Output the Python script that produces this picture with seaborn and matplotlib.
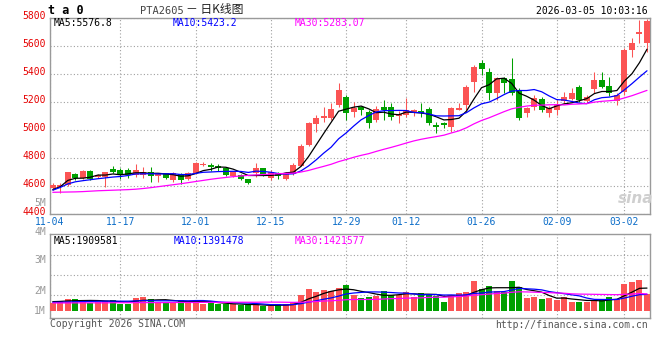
import matplotlib
matplotlib.use("Agg")
import numpy as np
import pandas as pd
import matplotlib.pyplot as plt
import seaborn as sns
from matplotlib.transforms import ScaledTranslation

# daily candles, 11-04 .. 03-05
opens = [4585, 4592, 4607, 4686, 4655, 4710, 4662, 4662, 4719, 4714,
         4717, 4680, 4682, 4702, 4672, 4690, 4640, 4686, 4648, 4690,
         4750, 4750, 4745, 4726, 4668, 4679, 4648, 4690, 4726, 4655,
         4695, 4648, 4686, 4743, 4893, 5043, 5088, 5083, 5178, 5238,
         5131, 5162, 5131, 5071, 5162, 5162, 5100, 5110, 5128, 5136,
         5148, 5036, 5052, 5024, 5143, 5179, 5345, 5481, 5417, 5262,
         5369, 5364, 5286, 5119, 5167, 5219, 5124, 5143, 5209, 5219,
         5310, 5209, 5290, 5357, 5314, 5209, 5274, 5571, 5683, 5624]
highs = [4622, 4620, 4702, 4692, 4712, 4714, 4685, 4700, 4743, 4726,
         4730, 4757, 4738, 4733, 4690, 4693, 4698, 4693, 4700, 4772,
         4771, 4762, 4757, 4733, 4705, 4686, 4652, 4762, 4731, 4714,
         4702, 4698, 4767, 4898, 5055, 5107, 5162, 5190, 5338, 5250,
         5202, 5172, 5143, 5172, 5214, 5190, 5138, 5226, 5150, 5190,
         5167, 5060, 5060, 5162, 5190, 5321, 5464, 5500, 5440, 5381,
         5381, 5512, 5298, 5167, 5250, 5233, 5172, 5214, 5274, 5298,
         5321, 5250, 5417, 5417, 5381, 5262, 5583, 5655, 5786, 5790]
lows = [4572, 4550, 4598, 4645, 4650, 4645, 4655, 4595, 4690, 4648,
        4660, 4662, 4660, 4631, 4631, 4648, 4630, 4612, 4640, 4686,
        4741, 4705, 4705, 4672, 4662, 4643, 4615, 4667, 4672, 4643,
        4650, 4645, 4676, 4740, 4886, 4988, 5060, 5071, 5167, 5071,
        5095, 5107, 5012, 5060, 5071, 5071, 5048, 5090, 5100, 5095,
        5036, 4981, 5012, 4988, 5143, 5143, 5274, 5393, 5214, 5214,
        5262, 5250, 5071, 5095, 5143, 5131, 5090, 5107, 5190, 5214,
        5202, 5190, 5267, 5298, 5243, 5179, 5250, 5524, 5619, 5560]
closes = [4610, 4606, 4698, 4655, 4710, 4648, 4678, 4698, 4697, 4680,
          4682, 4714, 4703, 4672, 4686, 4655, 4690, 4645, 4690, 4767,
          4760, 4735, 4728, 4680, 4698, 4650, 4621, 4726, 4679, 4702,
          4674, 4690, 4750, 4886, 5048, 5088, 5100, 5148, 5286, 5124,
          5155, 5143, 5048, 5148, 5143, 5090, 5114, 5143, 5140, 5119,
          5048, 5019, 5036, 5155, 5160, 5305, 5452, 5436, 5262, 5369,
          5333, 5267, 5083, 5155, 5226, 5143, 5155, 5179, 5233, 5262,
          5214, 5233, 5357, 5310, 5262, 5250, 5571, 5619, 5702, 5780]

ma5 = [4575, 4595, 4640, 4655, 4656, 4663, 4678, 4678, 4686, 4680,
       4687, 4694, 4695, 4690, 4691, 4686, 4681, 4670, 4673, 4689,
       4710, 4719, 4736, 4734, 4720, 4698, 4675, 4675, 4675, 4676,
       4680, 4694, 4699, 4740, 4810, 4892, 4974, 5054, 5134, 5149,
       5163, 5171, 5151, 5124, 5127, 5114, 5109, 5128, 5126, 5121,
       5113, 5094, 5072, 5075, 5084, 5135, 5222, 5302, 5323, 5365,
       5370, 5333, 5263, 5241, 5213, 5175, 5152, 5172, 5187, 5194,
       5209, 5224, 5260, 5275, 5275, 5282, 5350, 5402, 5481, 5577]
ma10 = [4570, 4590, 4615, 4630, 4638, 4645, 4652, 4658, 4664, 4668,
        4675, 4686, 4687, 4688, 4686, 4687, 4688, 4682, 4682, 4690,
        4698, 4700, 4703, 4704, 4705, 4704, 4697, 4706, 4704, 4698,
        4689, 4685, 4687, 4708, 4743, 4786, 4834, 4877, 4937, 4979,
        5028, 5073, 5103, 5129, 5138, 5139, 5140, 5139, 5125, 5124,
        5114, 5101, 5100, 5101, 5102, 5124, 5158, 5187, 5199, 5224,
        5253, 5278, 5282, 5282, 5289, 5273, 5243, 5217, 5214, 5204,
        5192, 5188, 5216, 5231, 5235, 5246, 5287, 5331, 5378, 5423]
ma30 = [4555, 4556, 4557, 4558, 4560, 4563, 4566, 4568, 4570, 4572,
        4574, 4577, 4582, 4588, 4595, 4602, 4609, 4616, 4624, 4632,
        4640, 4648, 4655, 4661, 4667, 4672, 4676, 4679, 4682, 4685,
        4688, 4690, 4692, 4700, 4711, 4726, 4740, 4755, 4774, 4789,
        4805, 4819, 4831, 4847, 4862, 4876, 4891, 4907, 4922, 4934,
        4944, 4953, 4963, 4979, 4994, 5016, 5044, 5068, 5087, 5109,
        5131, 5151, 5162, 5171, 5177, 5178, 5180, 5181, 5179, 5184,
        5186, 5189, 5199, 5205, 5209, 5214, 5229, 5245, 5264, 5283]

# volume in millions
vol_m = [0.64, 0.83, 1.00, 1.00, 0.89, 0.69, 0.78, 0.83, 0.92, 0.61,
         0.61, 1.11, 1.19, 1.00, 0.72, 0.69, 0.78, 0.92, 0.83, 0.83,
         0.58, 0.72, 0.56, 0.56, 0.56, 0.50, 0.50, 0.56, 0.39, 0.39,
         0.56, 0.56, 0.78, 1.33, 1.83, 1.61, 1.75, 1.67, 1.94, 2.17,
         1.33, 1.11, 1.17, 1.28, 1.67, 1.33, 1.33, 1.61, 1.19, 1.53,
         1.33, 1.25, 0.78, 1.33, 1.53, 1.61, 2.53, 1.83, 2.08, 1.67,
         1.61, 2.53, 2.03, 1.11, 1.19, 1.00, 1.11, 0.92, 1.19, 0.78,
         0.72, 0.78, 0.92, 1.00, 1.19, 1.00, 2.25, 2.42, 2.58, 1.39]
vol_ma5 = [0.78, 0.80, 0.84, 0.86, 0.87, 0.88, 0.87, 0.84, 0.82, 0.77,
           0.75, 0.82, 0.89, 0.90, 0.93, 0.94, 0.88, 0.82, 0.79, 0.81,
           0.79, 0.78, 0.70, 0.65, 0.60, 0.58, 0.54, 0.54, 0.50, 0.47,
           0.48, 0.49, 0.54, 0.72, 1.01, 1.22, 1.46, 1.64, 1.76, 1.83,
           1.77, 1.64, 1.54, 1.41, 1.31, 1.31, 1.36, 1.44, 1.43, 1.40,
           1.40, 1.38, 1.22, 1.24, 1.24, 1.30, 1.56, 1.77, 1.92, 1.94,
           1.94, 1.94, 1.98, 1.79, 1.69, 1.57, 1.29, 1.07, 1.08, 1.00,
           0.94, 0.88, 0.88, 0.84, 0.92, 0.98, 1.27, 1.57, 1.89, 1.91]
vol_ma10 = [0.72, 0.73, 0.75, 0.77, 0.79, 0.80, 0.81, 0.82, 0.82, 0.82,
            0.82, 0.84, 0.86, 0.86, 0.85, 0.85, 0.85, 0.86, 0.85, 0.87,
            0.87, 0.83, 0.76, 0.72, 0.70, 0.68, 0.66, 0.62, 0.58, 0.53,
            0.53, 0.51, 0.54, 0.61, 0.74, 0.85, 0.98, 1.09, 1.24, 1.42,
            1.50, 1.55, 1.59, 1.59, 1.57, 1.54, 1.50, 1.49, 1.42, 1.36,
            1.36, 1.37, 1.33, 1.34, 1.32, 1.35, 1.47, 1.49, 1.58, 1.59,
            1.62, 1.75, 1.88, 1.85, 1.82, 1.76, 1.62, 1.53, 1.44, 1.35,
            1.26, 1.08, 0.97, 0.96, 0.96, 0.96, 1.08, 1.23, 1.36, 1.39]
vol_ma30 = [0.67, 0.67, 0.67, 0.68, 0.68, 0.68, 0.68, 0.68, 0.69, 0.69,
            0.69, 0.70, 0.70, 0.70, 0.70, 0.70, 0.71, 0.71, 0.71, 0.71,
            0.72, 0.72, 0.72, 0.72, 0.73, 0.73, 0.73, 0.73, 0.74, 0.74,
            0.74, 0.73, 0.72, 0.73, 0.76, 0.79, 0.83, 0.85, 0.89, 0.94,
            0.96, 0.96, 0.96, 0.97, 1.00, 1.03, 1.04, 1.07, 1.08, 1.10,
            1.13, 1.15, 1.15, 1.18, 1.21, 1.25, 1.32, 1.36, 1.41, 1.46,
            1.49, 1.56, 1.60, 1.59, 1.57, 1.55, 1.53, 1.50, 1.48, 1.43,
            1.41, 1.40, 1.39, 1.38, 1.37, 1.36, 1.39, 1.41, 1.46, 1.42]

tick_days = [0, 9, 19, 29, 39, 47, 57, 67, 76]
tick_labels = ["11-04", "11-17", "12-01", "12-15", "12-29", "01-12", "01-26", "02-09", "03-02"]
price_ticks = [4400, 4600, 4800, 5000, 5200, 5400, 5600, 5800]
vol_grid = [1.3, 3.0, 4.67]
vol_labels = ["5M", "4M", "3M", "2M", "1M"]

RED = "#fb5454"
GREEN = "#00a000"
GRID = "#a0a0a0"
FRAME = "#9a9a9a"
BLUE_TXT = "#0a6cc8"
RED_TXT = "#e60000"

sns.set_style("white")
plt.rcParams["font.family"] = ["DejaVu Sans Mono", "Noto Sans CJK SC"]

df = pd.DataFrame({
    "day": np.arange(len(closes)),
    "open": opens, "high": highs, "low": lows, "close": closes,
    "ma5": ma5, "ma10": ma10, "ma30": ma30,
    "vol": vol_m, "vol_ma5": vol_ma5, "vol_ma10": vol_ma10, "vol_ma30": vol_ma30,
})
df["trend"] = np.where(df["close"] >= df["open"], "up", "down")
colors = np.where(df["trend"] == "up", RED, GREEN)

W, H = 660, 360
fig = plt.figure(figsize=(W / 100, H / 100), dpi=100)


def px_box(left, top, right, bottom):
    return [left / W, 1 - bottom / H, (right - left) / W, (bottom - top) / H]


def put(x, y, s, ha="left", **kw):
    fig.text(x / W, 1 - y / H, s, ha=ha, va="center", **kw)


ax = fig.add_axes(px_box(50, 18, 650, 214))
axv = fig.add_axes(px_box(50, 234, 650, 318))
x_lim = (-0.37, 79.4)

# price panel
ax.vlines(df["day"], df["low"], df["high"], colors=colors, linewidth=0.75, zorder=2)
body_low = np.minimum(df["open"], df["close"])
body_h = (df["close"] - df["open"]).abs().clip(lower=5)
ax.bar(df["day"], body_h, bottom=body_low, width=0.8, color=colors, linewidth=0, zorder=3)
sns.lineplot(data=df, x="day", y="ma5", color="black", linewidth=0.9, ax=ax, zorder=4)
sns.lineplot(data=df, x="day", y="ma10", color="#0000ff", linewidth=0.9, ax=ax, zorder=4)
sns.lineplot(data=df, x="day", y="ma30", color="#ff00ff", linewidth=0.9, ax=ax, zorder=4)
ax.set_xlim(*x_lim)
ax.set_ylim(price_ticks[0], price_ticks[-1])
ax.set_yticks(price_ticks)
ax.set_yticklabels([str(v) for v in price_ticks])
ax.set_xticks([x_lim[0]] + tick_days[1:])
ax.set_xticklabels(tick_labels)

# volume panel
sns.barplot(data=df, x="day", y="vol", hue="trend", palette={"up": RED, "down": GREEN},
            dodge=False, width=0.8, saturation=1, errorbar=None, legend=False,
            linewidth=0, ax=axv, zorder=3)
sns.lineplot(data=df, x="day", y="vol_ma5", color="black", linewidth=0.9, ax=axv, zorder=4)
sns.lineplot(data=df, x="day", y="vol_ma10", color="#0000ff", linewidth=0.9, ax=axv, zorder=4)
sns.lineplot(data=df, x="day", y="vol_ma30", color="#ff00ff", linewidth=0.9, ax=axv, zorder=4)
axv.set_xlim(*x_lim)
axv.set_ylim(-0.583, 6.417)
axv.set_yticks(vol_grid)
axv.set_xticks([x_lim[0]] + tick_days[1:])

for a in (ax, axv):
    a.set_xlabel("")
    a.set_ylabel("")
    a.set_axisbelow(True)
    a.grid(True, color=GRID, linestyle=(0, (1, 2)), linewidth=0.8)
    for s in a.spines.values():
        s.set_color(FRAME)
        s.set_linewidth(1.0)
        s.set_visible(True)

ax.tick_params(axis="x", length=0, pad=2.5, labelsize=7, labelcolor=BLUE_TXT)
ax.tick_params(axis="y", length=0, pad=3, labelsize=7, labelcolor=RED_TXT)
axv.tick_params(length=0, labelbottom=False, labelleft=False)
shift = ScaledTranslation(0, 2.5 / 100, fig.dpi_scale_trans)
for lab in ax.get_yticklabels():
    lab.set_transform(lab.get_transform() + shift)

# volume axis labels (as drawn by the source chart)
for s, y in zip(vol_labels, [203, 231.5, 260, 291, 311]):
    put(46, y, s, ha="right", fontsize=7, color="#999999")

# header and legends
put(48, 10.5, "t a 0", fontsize=8.5, fontweight="bold", color="black")
put(140, 10.5, "PTA2605", fontsize=7.5, color="#444444")
put(186, 10, "－ 日K线图", fontsize=8.5, color="#222222",
    family=["Noto Sans CJK SC", "DejaVu Sans"])
put(648, 10.5, "2026-03-05 10:03:16", ha="right", fontsize=7, color="black")

put(54, 23.5, "MA5:5576.8", fontsize=7, color="black")
put(173, 23.5, "MA10:5423.2", fontsize=7, color="#0000ff")
put(295, 23.5, "MA30:5283.07", fontsize=7, color="#ff00ff")

put(54, 240.5, "MA5:1909581", fontsize=7, color="black")
put(174, 240.5, "MA10:1391478", fontsize=7, color="#0000ff")
put(295, 240.5, "MA30:1421577", fontsize=7, color="#ff00ff")

put(50, 324, "Copyright 2026 SINA.COM", fontsize=7, color="#555555")
put(648, 325, "http://finance.sina.com.cn", ha="right", fontsize=7, color="#555555")

put(636, 198, "sina", ha="center", fontsize=11, fontstyle="italic", fontweight="bold",
    color="#cfcfcf", family=["DejaVu Sans"])

fig.savefig("out.png", dpi=100)
